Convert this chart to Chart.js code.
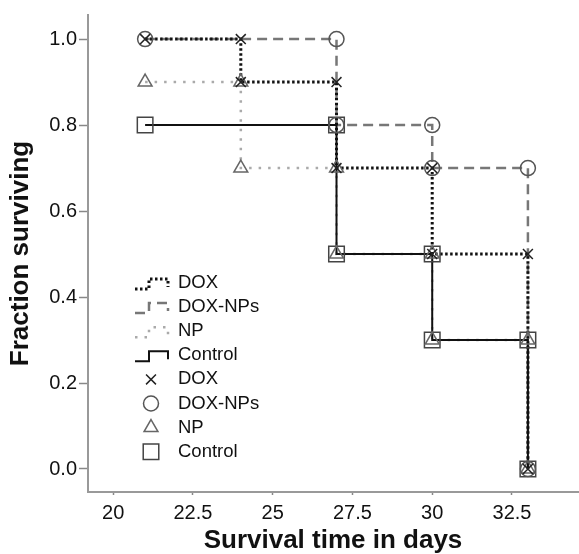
<!DOCTYPE html>
<html>
<head>
<meta charset="utf-8">
<script src="https://cdn.jsdelivr.net/npm/chart.js@4/dist/chart.umd.min.js"></script>
<style>
  html, body { margin: 0; padding: 0; background: #fff; }
  #wrap { width: 579px; height: 554px; }
</style>
</head>
<body>
<div id="wrap"><canvas id="myChart" width="579" height="554"></canvas></div>
<script>
// survival data (days, fraction surviving)
const doxTimes = [21, 24, 27, 30, 33];
const doxSurv = [1.0, 0.9, 0.7, 0.5, 0.0];
const doxNpTimes = [21, 27, 30, 33];
const doxNpSurv = [1.0, 0.8, 0.7, 0.0];
const npTimes = [21, 24, 27, 30, 33];
const npSurv = [0.9, 0.7, 0.5, 0.3, 0.0];
const ctrlTimes = [21, 27, 30, 33];
const ctrlSurv = [0.8, 0.5, 0.3, 0.0];

const seriesNames = ["DOX", "DOX-NPs", "NP", "Control"];
const xTicks = [20, 22.5, 25, 27.5, 30, 32.5];
const yTicks = [0, 0.2, 0.4, 0.6, 0.8, 1.0];

// step line points
function stepPts(times, surv) {
  return times.map((t, i) => ({x: t, y: surv[i]}));
}
// marker at every corner of the step curve
function cornerPts(times, surv) {
  let pts = [{x: times[0], y: surv[0]}];
  for (let i = 1; i < times.length; i++) {
    pts.push({x: times[i], y: surv[i - 1]});
    pts.push({x: times[i], y: surv[i]});
  }
  return pts;
}

// lower order = drawn on top
const lineSets = [
  {label: seriesNames[0], data: stepPts(doxTimes, doxSurv), borderColor: "#111", borderWidth: 3, borderDash: [2.5, 2.5], order: 2},
  {label: seriesNames[1], data: stepPts(doxNpTimes, doxNpSurv), borderColor: "#777", borderWidth: 2.5, borderDash: [10, 6], order: 4},
  {label: seriesNames[2], data: stepPts(npTimes, npSurv), borderColor: "#aaa", borderWidth: 2.5, borderDash: [2.5, 7], order: 5},
  {label: seriesNames[3], data: stepPts(ctrlTimes, ctrlSurv), borderColor: "#111", borderWidth: 2, borderDash: [], order: 1}
].map(d => Object.assign(d, {type: "line", stepped: true, pointRadius: 0, fill: false, kind: "line"}));

const markSets = [
  {label: seriesNames[0], data: cornerPts(doxTimes, doxSurv), pointStyle: "crossRot", pointRadius: 7, pointBorderColor: "#222"},
  {label: seriesNames[1], data: cornerPts(doxNpTimes, doxNpSurv), pointStyle: "circle", pointRadius: 7.5, pointBorderColor: "#555"},
  {label: seriesNames[2], data: cornerPts(npTimes, npSurv), pointStyle: "triangle", pointRadius: 8, pointBorderColor: "#666"},
  {label: seriesNames[3], data: cornerPts(ctrlTimes, ctrlSurv), pointStyle: "rect", pointRadius: 11, pointBorderColor: "#444"}
].map(d => Object.assign(d, {type: "scatter", showLine: false, pointBorderWidth: 1.5, pointBackgroundColor: "rgba(0,0,0,0)", pointHoverRadius: d.pointRadius, order: 0, kind: "mark"}));

// legend drawn inside the plot, lower left
const insideLegend = {
  id: "insideLegend",
  afterDraw(chart) {
    const ctx = chart.ctx;
    const x0 = 135, top = 283, gap = 24.1;
    ctx.save();
    chart.data.datasets.forEach((ds, i) => {
      const y = top + i * gap;
      if (ds.kind === "line") {
        ctx.strokeStyle = ds.borderColor;
        ctx.lineWidth = ds.borderWidth;
        ctx.setLineDash(ds.borderDash);
        ctx.beginPath();
        ctx.moveTo(x0, y + 6);
        ctx.lineTo(x0 + 14, y + 6);
        ctx.lineTo(x0 + 14, y - 4);
        ctx.lineTo(x0 + 33, y - 4);
        ctx.lineTo(x0 + 33, y + 4);
        ctx.stroke();
        ctx.setLineDash([]);
      } else {
        ctx.strokeStyle = ds.pointBorderColor;
        ctx.fillStyle = "rgba(0,0,0,0)";
        ctx.lineWidth = 1.5;
        Chart.helpers.drawPoint(ctx, {pointStyle: ds.pointStyle, radius: ds.pointRadius, rotation: 0, borderWidth: 1.5}, x0 + 16, y);
      }
      ctx.fillStyle = "#111";
      ctx.font = "18.5px 'Liberation Sans', Arial, sans-serif";
      ctx.textBaseline = "middle";
      ctx.textAlign = "left";
      ctx.fillText(ds.label, 178, y);
    });
    ctx.restore();
  }
};

let myChart = document.getElementById("myChart");
new Chart(myChart, {
  data: {datasets: lineSets.concat(markSets)},
  options: {
    responsive: false,
    animation: false,
    layout: {autoPadding: false, padding: {top: 15, right: 1, left: 0, bottom: 0}},
    plugins: {legend: {display: false}, tooltip: {enabled: false}},
    scales: {
      x: {
        type: "linear",
        min: 19.21,
        max: 34.57,
        afterBuildTicks: s => { s.ticks = xTicks.map(v => ({value: v})); },
        afterFit: s => { s.height = 62; s.paddingLeft = 0; s.paddingRight = 0; },
        ticks: {
          font: {family: "'Liberation Sans', Arial", size: 20},
          color: "#111",
          padding: 6,
          maxRotation: 0,
          callback: v => String(v)
        },
        grid: {drawOnChartArea: false, tickLength: 3, color: "#888", tickWidth: 1.5},
        border: {color: "#999", width: 2},
        title: {
          display: true,
          text: "Survival time in days",
          color: "#111",
          padding: 0,
          font: {family: "'Liberation Sans', Arial", size: 26, weight: "bold", lineHeight: 1}
        }
      },
      y: {
        type: "linear",
        min: -0.0535,
        max: 1.056,
        afterBuildTicks: s => { s.ticks = yTicks.map(v => ({value: v})); },
        afterFit: s => { s.width = 88; s.paddingTop = 0; s.paddingBottom = 0; },
        ticks: {
          font: {family: "'Liberation Sans', Arial", size: 20},
          color: "#111",
          padding: 2,
          callback: v => v.toFixed(1)
        },
        grid: {drawOnChartArea: false, tickLength: 9, color: "#888", tickWidth: 1.5},
        border: {color: "#999", width: 2},
        title: {
          display: true,
          text: "Fraction surviving",
          color: "#111",
          padding: {top: 8, bottom: 0},
          font: {family: "'Liberation Sans', Arial", size: 26, weight: "bold", lineHeight: 1}
        }
      }
    }
  },
  plugins: [insideLegend]
});
</script>
</body>
</html>
